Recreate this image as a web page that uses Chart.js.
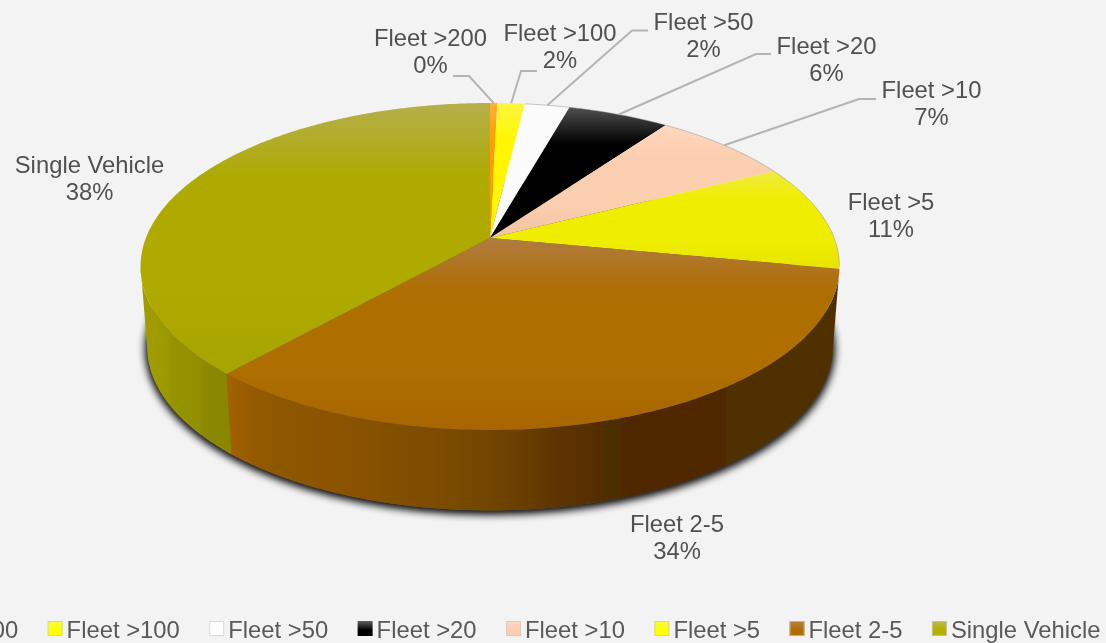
<!DOCTYPE html>
<html>
<head>
<meta charset="utf-8">
<title>Fleet size share</title>
<style>
    html, body { margin: 0; padding: 0; background: #f3f3f3; overflow: hidden; }
    canvas { display: block; }
</style>
<script src="https://cdn.jsdelivr.net/npm/chart.js@4/dist/chart.umd.min.js"></script>
</head>
<body>
<canvas id="pie" width="1106" height="643"></canvas>
<script>
    // chart values (share of vehicles, %)
    const categories = ['Fleet >200', 'Fleet >100', 'Fleet >50', 'Fleet >20', 'Fleet >10', 'Fleet >5', 'Fleet 2-5', 'Single Vehicle'];
    const shares = [0.4, 1.5, 2.45, 5.55, 7.6, 10.5, 33.6, 38.4];
    const percentLabels = ['0%', '2%', '2%', '6%', '7%', '11%', '34%', '38%'];

    // top face colours: [highlight, body, bottom]
    const faceColors = [
        ['#ffb038', '#ff9c00', '#f89600'],
        ['#fbf640', '#fff700', '#fcf400'],
        ['#fbfbfb', '#fbfbfb', '#fbfbfb'],
        ['#505050', '#000000', '#000000'],
        ['#ffd6bd', '#fcceb0', '#f2c4a4'],
        ['#eeea42', '#f0ee00', '#e8e400'],
        ['#b27b40', '#ae6e00', '#a86500'],
        ['#b5af4c', '#aeaa00', '#a8a400']
    ];
    // wall colours running left to right along the front of the pie
    const oliveWall = [[0, '#a29e00'], [0.3, '#9c9800'], [0.35, '#969300'], [0.65, '#929000'], [0.7, '#8c8900'], [1, '#8a8600']];
    const brownWall = [
        [0, '#a56200'], [0.04, '#965b00'], [0.1, '#8c5700'], [0.16, '#8d5300'], [0.24, '#875200'],
        [0.28, '#824f00'], [0.34, '#7e4b00'], [0.4, '#754800'], [0.46, '#6d4200'], [0.55, '#5c3300'],
        [0.615, '#552c00'], [0.616, '#4c2f00'], [0.644, '#4c2f00'], [0.645, '#4f2800'], [0.815, '#4f2800'],
        [0.817, '#4f3000'], [1, '#4f3000']
    ];
    const legendSwatch = [
        ['#ffc060', '#ff9c00'], ['#f8f840', '#ffff00'], ['#ffffff', '#ffffff'], ['#606060', '#000000'],
        ['#fdd9c2', '#fdcdae'], ['#f8f840', '#ffff00'], ['#b88040', '#b06e00'], ['#bcb84c', '#b4b000']
    ];

    // label layout: text centre, first line centre, and the elbow of the leader (if any)
    const labelLayout = [
        { x: 430.5, y: 39, elbow: [469, 76], end: [453, 76] },
        { x: 560, y: 34, elbow: [521, 71], end: [537, 71] },
        { x: 703.5, y: 23, elbow: [632, 30.5], end: [648, 30.5] },
        { x: 826.5, y: 47, elbow: [756, 54], end: [771, 54] },
        { x: 931.5, y: 91, elbow: [859, 99], end: [876, 99] },
        { x: 891, y: 203 },
        { x: 677, y: 525 },
        { x: 89.5, y: 166 }
    ];

    // perspective of the tilted disc
    const cx = 490, apexY = 238;
    const bend = -0.1743, spanX = 344.1, spanY = 158.5;
    const wallHeight = 80.5, wallShrink = 0.981;
    const rimRight = 100 * Math.PI / 180, rimLeft = 260 * Math.PI / 180;

    // clockwise angle from 12 o'clock -> point on rim of the disc
    function rimPoint(theta, low) {
        const u = Math.sin(theta), v = -Math.cos(theta);
        const w = 1 + bend * v;
        let x = spanX * u / w;
        let y = apexY + spanY * v / w;
        if (low) { x *= wallShrink; y += wallHeight; }
        return [cx + x, y];
    }

    function arcPoints(from, to, low) {
        const pts = [];
        const n = Math.max(4, Math.ceil((to - from) * 80));
        for (let i = 0; i <= n; i++) pts.push(rimPoint(from + (to - from) * i / n, low));
        return pts;
    }

    function trace(ctx, pts, open) {
        ctx.beginPath();
        pts.forEach((p, i) => i ? ctx.lineTo(p[0], p[1]) : ctx.moveTo(p[0], p[1]));
        if (!open) ctx.closePath();
    }

    // soft shadow only from the underside, the top face covers the rest
    function drawShadow(ctx) {
        ctx.save();
        ctx.shadowColor = 'rgba(0,0,0,0.9)';
        ctx.shadowBlur = 10;
        ctx.shadowOffsetY = 2;
        ctx.fillStyle = '#555555';
        trace(ctx, arcPoints(0, 2 * Math.PI, true));
        ctx.fill();
        ctx.fill();
        ctx.restore();
    }

    function drawWall(ctx, from, to, stops) {
        const a = Math.max(from, rimRight), b = Math.min(to, rimLeft);
        if (b <= a) return;
        const pts = arcPoints(a, b, false).concat(arcPoints(a, b, true).reverse());
        const xs = pts.map(p => p[0]);
        const grad = ctx.createLinearGradient(Math.min(...xs), 0, Math.max(...xs), 0);
        stops.forEach(s => grad.addColorStop(s[0], s[1]));
        trace(ctx, pts);
        ctx.fillStyle = grad;
        ctx.fill();
    }

    function drawFace(ctx, from, to, colors) {
        const pts = [[cx, apexY]].concat(arcPoints(from, to, false));
        const ys = pts.map(p => p[1]);
        const grad = ctx.createLinearGradient(0, Math.min(...ys), 0, Math.max(...ys));
        grad.addColorStop(0, colors[0]);
        grad.addColorStop(0.28, colors[1]);
        grad.addColorStop(0.7, colors[1]);
        grad.addColorStop(1, colors[2]);
        trace(ctx, pts);
        ctx.fillStyle = grad;
        ctx.fill();
    }

    function drawLabels(ctx, arcs) {
        ctx.font = '23.8px "Liberation Sans", Arial, sans-serif';
        ctx.textAlign = 'center';
        ctx.textBaseline = 'middle';
        categories.forEach((name, i) => {
            const spot = labelLayout[i];
            if (spot.elbow) {
                const mid = (arcs[i].startAngle + arcs[i].endAngle) / 2 + Math.PI / 2;
                const tip = rimPoint(mid, false);
                ctx.beginPath();
                ctx.moveTo(spot.end[0], spot.end[1]);
                ctx.lineTo(spot.elbow[0], spot.elbow[1]);
                ctx.lineTo(tip[0], tip[1]);
                ctx.strokeStyle = '#b4b4b4';
                ctx.lineWidth = 2;
                ctx.stroke();
            }
            ctx.fillStyle = '#505050';
            ctx.fillText(name, spot.x, spot.y);
            ctx.fillText(percentLabels[i], spot.x, spot.y + 27);
        });
    }

    // legend is wider than the page, so the first entry runs off the left edge
    function drawLegend(ctx) {
        let x = -114;
        const top = 621, box = 15;
        ctx.font = '23.8px "Liberation Sans", Arial, sans-serif';
        ctx.textAlign = 'left';
        ctx.textBaseline = 'middle';
        categories.forEach((name, i) => {
            const grad = ctx.createLinearGradient(0, top, 0, top + box);
            grad.addColorStop(0, legendSwatch[i][0]);
            grad.addColorStop(0.6, legendSwatch[i][1]);
            ctx.fillStyle = grad;
            ctx.fillRect(x, top, box, box);
            ctx.strokeStyle = 'rgba(200,200,200,0.7)';
            ctx.lineWidth = 1;
            if (i !== 3) ctx.strokeRect(x + 0.5, top + 0.5, box - 1, box - 1);
            ctx.fillStyle = '#595959';
            ctx.fillText(name, x + box + 4, 631);
            x += box + 4 + ctx.measureText(name).width + 29.5;
        });
    }

    // replaces the flat arcs with the tilted disc, angles still come from the pie controller
    const tiltedPie = {
        id: 'tiltedPie',
        beforeDatasetsDraw(chart) {
            const ctx = chart.ctx;
            const arcs = chart.getDatasetMeta(0).data;
            const turn = a => a + Math.PI / 2;
            drawShadow(ctx);
            drawWall(ctx, turn(arcs[6].startAngle), turn(arcs[6].endAngle), brownWall);
            drawWall(ctx, turn(arcs[7].startAngle), turn(arcs[7].endAngle), oliveWall);
            arcs.forEach((arc, i) => drawFace(ctx, turn(arc.startAngle), turn(arc.endAngle), faceColors[i]));
            // thin grey edge along the back right of the rim
            trace(ctx, arcPoints(turn(arcs[2].startAngle), rimRight, false), true);
            ctx.strokeStyle = 'rgba(140,140,140,0.6)';
            ctx.lineWidth = 0.8;
            ctx.stroke();
            drawLabels(ctx, arcs);
            drawLegend(ctx);
            return false;
        }
    };

    new Chart(document.getElementById('pie'), {
        type: 'pie',
        data: {
            labels: categories,
            datasets: [{ data: shares, backgroundColor: faceColors.map(c => c[1]) }]
        },
        options: {
            responsive: false,
            animation: false,
            devicePixelRatio: 1,
            plugins: { legend: { display: false }, tooltip: { enabled: false } }
        },
        plugins: [tiltedPie]
    });
</script>
</body>
</html>
